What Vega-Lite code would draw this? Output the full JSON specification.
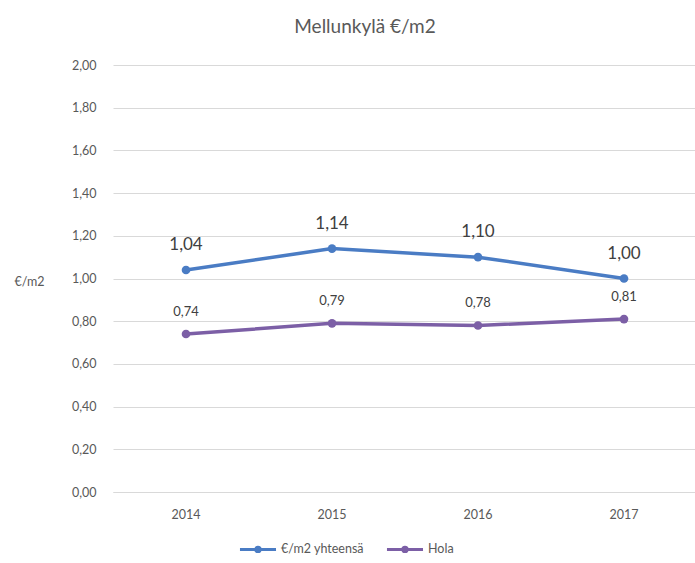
{
  "$schema": "https://vega.github.io/schema/vega-lite/v6.json",
  "autosize": "none",
  "padding": {"left": 113, "top": 65, "right": 0, "bottom": 71},
  "width": 584,
  "height": 427,
  "background": "white",
  "title": {"text": "Mellunkylä €/m2", "fontSize": 19, "font": "Lato", "fontWeight": "normal", "color": "#595959", "dx": -40, "offset": 22},
  "data": {"values": [
    {"year": "2014", "series": "€/m2 yhteensä", "value": 1.04},
    {"year": "2015", "series": "€/m2 yhteensä", "value": 1.14},
    {"year": "2016", "series": "€/m2 yhteensä", "value": 1.10},
    {"year": "2017", "series": "€/m2 yhteensä", "value": 1.00},
    {"year": "2014", "series": "Hola", "value": 0.74},
    {"year": "2015", "series": "Hola", "value": 0.79},
    {"year": "2016", "series": "Hola", "value": 0.78},
    {"year": "2017", "series": "Hola", "value": 0.81}
  ]},
  "encoding": {
    "x": {"field": "year", "type": "ordinal", "scale": {"type": "band", "paddingInner": 0, "paddingOuter": 0},
      "axis": {"title": null, "labelAngle": 0, "ticks": false, "domain": true, "domainColor": "#d9d9d9", "labelPadding": 16, "labelFontSize": 12.5, "labelColor": "#595959", "labelFont": "Lato"}},
    "y": {"field": "value", "type": "quantitative", "scale": {"domain": [0, 2]},
      "axis": {"title": "€/m2", "titleAngle": 0, "titleAlign": "left", "titleBaseline": "middle", "titleX": -99, "titleY": 216, "titleFontWeight": "normal", "titleFontSize": 12.5, "titleColor": "#595959", "titleFont": "Lato",
        "values": [0, 0.2, 0.4, 0.6, 0.8, 1.0, 1.2, 1.4, 1.6, 1.8, 2.0], "format": ".2f", "ticks": false, "domain": false, "labelPadding": 17, "labelFontSize": 12.5, "labelColor": "#595959", "labelFont": "Lato", "gridColor": "#d9d9d9"}}
  },
  "layer": [
    {
      "mark": {"type": "line", "strokeWidth": 3.5, "point": {"size": 75, "filled": true, "opacity": 1}},
      "encoding": {
        "color": {"field": "series", "type": "nominal",
          "scale": {"domain": ["€/m2 yhteensä", "Hola"], "range": ["#4A7CC4", "#7C5FA6"]},
          "legend": {"title": null, "orient": "none", "legendX": 125, "legendY": 464, "direction": "horizontal",
            "symbolType": "M-1,0H1M-0.12,0a0.12,0.12 0 1,0 0.24,0a0.12,0.12 0 1,0 -0.24,0", "symbolSize": 1300, "symbolStrokeWidth": 3, "labelFontSize": 12.5, "labelColor": "#595959", "labelFont": "Lato", "columnPadding": 16, "labelOffset": 3}}
      }
    },
    {
      "transform": [{"filter": "datum.series === '€/m2 yhteensä'"}],
      "mark": {"type": "text", "dy": -25, "fontSize": 17, "font": "Lato", "color": "#404040"},
      "encoding": {"text": {"field": "value", "type": "quantitative", "format": ".2f"}}
    },
    {
      "transform": [{"filter": "datum.series === 'Hola'"}],
      "mark": {"type": "text", "dy": -22, "fontSize": 13, "font": "Lato", "color": "#404040"},
      "encoding": {"text": {"field": "value", "type": "quantitative", "format": ".2f"}}
    }
  ],
  "config": {
    "view": {"stroke": null},
    "locale": {"number": {"decimal": ",", "thousands": " ", "grouping": [3], "currency": ["", " €"]}}
  }
}
